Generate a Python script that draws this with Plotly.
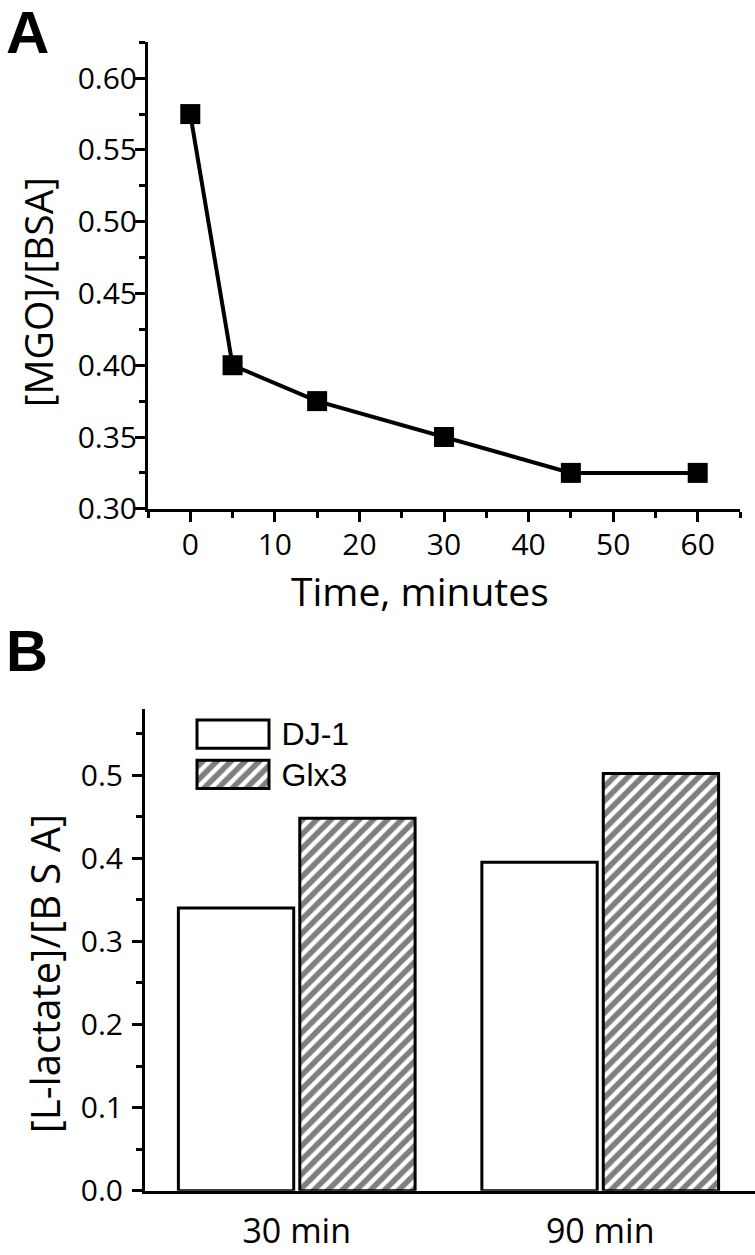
import plotly.graph_objects as go

# ---- Panel A data ----
time_min = [0, 5, 15, 30, 45, 60]
mgo_bsa = [0.575, 0.400, 0.375, 0.350, 0.325, 0.325]

# ---- Panel B data ----
categories = ["30 min", "90 min"]
dj1 = [0.340, 0.395]
glx3 = [0.448, 0.502]
legend_names = ["DJ-1", "Glx3"]
legend_patterns = ["", "/"]
legend_len = [1, 1]

W, H = 755, 1255
def px(x):
    return x / W
def py(y):
    return 1 - y / H

TICKFONT = dict(family="Open Sans", size=30, color="black")
HATCH = dict(fgcolor="black", bgcolor="white", size=10, solidity=0.55)
fig = go.Figure()

fig.add_trace(go.Scatter(
    x=time_min, y=mgo_bsa, mode="lines+markers",
    line=dict(color="black", width=4),
    marker=dict(symbol="square", size=20, color="black"),
    xaxis="x", yaxis="y", showlegend=False, cliponaxis=False))

fig.add_trace(go.Bar(
    x=categories, y=dj1, name="DJ-1", xaxis="x2", yaxis="y2",
    marker=dict(color="white", line=dict(color="black", width=3)),
    showlegend=False))
fig.add_trace(go.Bar(
    x=categories, y=glx3, name="Glx3", xaxis="x2", yaxis="y2",
    marker=dict(color="white", line=dict(color="black", width=3),
                pattern=dict(shape="/", **HATCH)),
    showlegend=False))

# legend key boxes (drawn as bars on a small auxiliary axis pair)
fig.add_trace(go.Bar(
    x=legend_len, y=legend_names, orientation="h", width=0.7,
    xaxis="x3", yaxis="y3", showlegend=False,
    marker=dict(color="white", line=dict(color="black", width=3),
                pattern=dict(shape=legend_patterns, **HATCH))))

axis_common = dict(showline=True, linecolor="black", linewidth=3, showgrid=False,
                   zeroline=False, ticks="outside", tickcolor="black", tickwidth=3,
                   ticklen=10, tickfont=TICKFONT)

fig.update_layout(
    width=W, height=H, margin=dict(l=0, r=0, t=0, b=0),
    paper_bgcolor="white", plot_bgcolor="white",
    barmode="group", bargap=0.2, bargroupgap=0.05,
    xaxis=dict(domain=[px(148), px(740)], range=[-5, 65], dtick=10, tick0=0,
               anchor="y", ticklabelstandoff=-3,
               minor=dict(dtick=5, ticklen=6, tickwidth=3, tickcolor="black", ticks="outside"),
               **axis_common),
    yaxis=dict(domain=[py(517), py(43)], range=[0.30, 0.625], dtick=0.05, tick0=0.30,
               tickformat=".2f", anchor="x", ticklabelstandoff=-8,
               minor=dict(dtick=0.025, ticklen=6, tickwidth=3, tickcolor="black", ticks="outside"),
               **axis_common),
    xaxis2=dict(domain=[px(145), 1.0], range=[-0.5, 1.51], anchor="y2",
                showline=True, linecolor="black", linewidth=3, showgrid=False,
                zeroline=False, ticks="", ticklabelstandoff=8,
                tickfont=dict(family="Open Sans", size=34, color="black")),
    yaxis2=dict(domain=[py(1210), py(720)], range=[0, 0.58], dtick=0.1, tick0=0,
                tickformat=".1f", anchor="x2",
                minor=dict(dtick=0.05, ticklen=6, tickwidth=3, tickcolor="black", ticks="outside"),
                ticklabelstandoff=3,
                **axis_common),
    xaxis3=dict(domain=[px(193.4), px(272.6)], range=[-0.05, 1.05], anchor="y3",
                visible=False, fixedrange=True),
    yaxis3=dict(domain=[py(807.5), py(725.5)], range=[1.5, -0.5], anchor="x3",
                side="right", showline=False, showgrid=False, zeroline=False,
                ticks="", ticklabelstandoff=8,
                tickfont=dict(family="Liberation Sans, Arial", size=32, color="black")),
)

annos = [
    dict(text="<b>A</b>", x=px(27), y=py(33), font=dict(family="Liberation Sans, Arial", size=60)),
    dict(text="<b>B</b>", x=px(27), y=py(661), font=dict(family="Liberation Sans, Arial", size=58)),
    dict(text="[MGO]/[BSA]", x=px(37), y=py(297), textangle=-90,
         font=dict(family="Open Sans", size=39)),
    dict(text="[L-lactate]/[B S A]", x=px(44), y=py(990), textangle=-90,
         font=dict(family="Open Sans", size=40)),
    dict(text="Time, minutes", x=px(420), y=py(600),
         font=dict(family="Open Sans", size=39)),
]
for a in annos:
    a.update(xref="paper", yref="paper", showarrow=False, xanchor="center", yanchor="middle")
    a["font"]["color"] = "black"
fig.update_layout(annotations=annos)

fig.write_html(
    "out.html",
    config={"displayModeBar": False},
    post_script=("document.documentElement.style.margin='0';"
                 "document.body.style.margin='0';document.body.style.padding='0';"
                 "document.body.style.overflow='hidden';"),
)
